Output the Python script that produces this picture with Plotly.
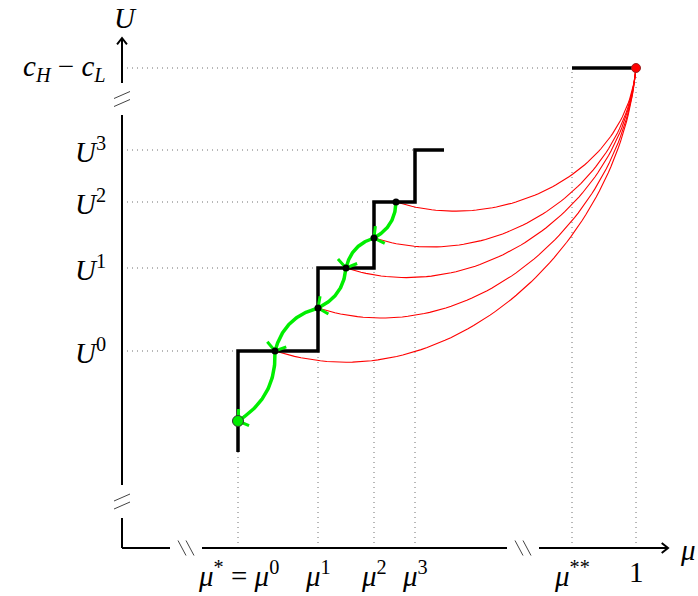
import numpy as np
import plotly.graph_objects as go

# ---------------- data (schematic units) ----------------
mu_labels = ["<i>μ</i><sup>*</sup> = <i>μ</i><sup>0</sup>", "<i>μ</i><sup>1</sup>",
             "<i>μ</i><sup>2</sup>", "<i>μ</i><sup>3</sup>", "<i>μ</i><sup>**</sup>", "1"]
mu_vals = [116, 196, 252, 293, 450, 514]
U_labels = ["<i>U</i><sup>0</sup>", "<i>U</i><sup>1</sup>", "<i>U</i><sup>2</sup>",
            "<i>U</i><sup>3</sup>", "<i>c</i><sub><i>H</i></sub> − <i>c</i><sub><i>L</i></sub>"]
U_vals = [197, 280, 346, 398, 480]
step_start_U = 96
step_end_mu = 322
seq_mu = [274, 252, 224, 196, 153]
seq_U = [346, 310, 280, 240, 197]
final_mu = 116
final_U = 127
green_bends = [30, -30, 30, -30, 30]

FONT = "'Liberation Serif', 'Times New Roman', 'DejaVu Serif', serif"
FS = 29
fig = go.Figure()


def line(xs, ys, color="black", width=2, dash=None):
    fig.add_trace(go.Scatter(x=xs, y=ys, mode="lines",
                             line=dict(color=color, width=width, dash=dash),
                             hoverinfo="skip", showlegend=False))


def bezier(p0, c1, c2, p3, n=80):
    t = np.linspace(0, 1, n)[:, None]
    pts = ((1 - t) ** 3) * p0 + 3 * ((1 - t) ** 2) * t * c1 + 3 * (1 - t) * t ** 2 * c2 + t ** 3 * p3
    return pts[:, 0], pts[:, 1]


def ctrl_abs(p0, p3, out_deg, in_deg, k=0.3915):
    p0 = np.array(p0, float); p3 = np.array(p3, float)
    d = np.linalg.norm(p3 - p0) * k
    c1 = p0 + d * np.array([np.cos(np.radians(out_deg)), np.sin(np.radians(out_deg))])
    c2 = p3 + d * np.array([np.cos(np.radians(in_deg)), np.sin(np.radians(in_deg))])
    return p0, c1, c2, p3


def ctrl_bend(p0, p3, bend):
    p0 = np.array(p0, float); p3 = np.array(p3, float)
    a = np.degrees(np.arctan2(p3[1] - p0[1], p3[0] - p0[0]))
    return ctrl_abs(p0, p3, a + bend, a + 180 - bend)


def arrowhead(tip, direction, length=8, ang=40, color="black", width=2):
    d = np.array(direction, float)
    d = d / np.linalg.norm(d)
    arms = []
    for s in (1, -1):
        r = np.radians(s * ang)
        back = -np.array([d[0] * np.cos(r) - d[1] * np.sin(r), d[0] * np.sin(r) + d[1] * np.cos(r)])
        arms.append((tip[0] + length * back[0], tip[1] + length * back[1]))
    line([arms[0][0], tip[0], arms[1][0]], [arms[0][1], tip[1], arms[1][1]], color=color, width=width)


# ---------------- dotted guide lines ----------------
DOT = dict(color="#707070", width=1, dash="1px,4px")
h_ends = [mu_vals[0], mu_vals[1], mu_vals[2], mu_vals[3], mu_vals[4]]
for u, xe in zip(U_vals, h_ends):
    line([0, xe], [u, u], **DOT)
v_tops = [step_start_U, U_vals[0], U_vals[1], U_vals[2], U_vals[4], U_vals[4]]
for m, yt in zip(mu_vals, v_tops):
    line([m, m], [0, yt], **DOT)

# ---------------- axes with breaks ----------------
AX = dict(color="black", width=2)
ygaps = [(30, 63), (433, 465)]
line([0, 0], [0, ygaps[0][0]], **AX)
line([0, 0], [ygaps[0][1], ygaps[1][0]], **AX)
line([0, 0], [ygaps[1][1], 510], **AX)
arrowhead((0, 510), (0, 1), length=8, ang=38, width=2)
xgaps = [(48, 80), (385, 417)]
line([0, xgaps[0][0]], [0, 0], **AX)
line([xgaps[0][1], xgaps[1][0]], [0, 0], **AX)
line([xgaps[1][1], 546], [0, 0], **AX)
arrowhead((546, 0), (1, 0), length=8, ang=38, width=2)

BRK = dict(color="#444444", width=1)
for g in ygaps:
    c = (g[0] + g[1]) / 2
    for off in (-4, 4):
        line([-8, 8], [c + off - 3.5, c + off + 3.5], **BRK)
for g in xgaps:
    c = (g[0] + g[1]) / 2
    for off in (-4, 4):
        line([c + off - 4, c + off + 4], [7.5, -7.5], **BRK)

# ---------------- red curves ----------------
top = (mu_vals[5], U_vals[4])
for m, u in zip(seq_mu, seq_U):
    bx, by = bezier(*ctrl_abs((m, u), top, -18, -95))
    line(list(bx), list(by), color="red", width=1.1)

# ---------------- step function ----------------
sx = [mu_vals[0], mu_vals[0], mu_vals[1], mu_vals[1], mu_vals[2], mu_vals[2], mu_vals[3], mu_vals[3], step_end_mu]
sy = [step_start_U, U_vals[0], U_vals[0], U_vals[1], U_vals[1], U_vals[2], U_vals[2], U_vals[3], U_vals[3]]
line(sx, sy, color="black", width=3.5)
line([mu_vals[4], mu_vals[5]], [U_vals[4], U_vals[4]], color="black", width=3.5)

# ---------------- green path ----------------
GREEN = "#00ee00"
pts = list(zip(seq_mu, seq_U)) + [(final_mu, final_U)]
for i in range(len(pts) - 1):
    p0, c1, c2, p3 = ctrl_bend(pts[i], pts[i + 1], green_bends[i])
    bx, by = bezier(p0, c1, c2, p3)
    line(list(bx), list(by), color=GREEN, width=3.5)
    arrowhead(p3, p3 - c2, length=12, ang=55, color=GREEN, width=3)

# ---------------- dots ----------------
fig.add_trace(go.Scatter(x=seq_mu, y=seq_U, mode="markers",
                         marker=dict(color="black", size=7), hoverinfo="skip", showlegend=False))
fig.add_trace(go.Scatter(x=[final_mu], y=[final_U], mode="markers",
                         marker=dict(color=GREEN, size=11, line=dict(color="#333333", width=1)),
                         hoverinfo="skip", showlegend=False))
fig.add_trace(go.Scatter(x=[top[0]], y=[top[1]], mode="markers",
                         marker=dict(color="red", size=9, line=dict(color="#992222", width=1)),
                         hoverinfo="skip", showlegend=False))

# ---------------- labels ----------------
ann = []
for lab, m in zip(mu_labels, mu_vals):
    ann.append(dict(x=m, y=-6, text=lab, xanchor="center", yanchor="top", showarrow=False))
for lab, u in zip(U_labels, U_vals):
    ann.append(dict(x=-14, y=u, text=lab, xanchor="right", yanchor="middle", showarrow=False))
ann.append(dict(x=3, y=530, text="<i>U</i>", xanchor="center", yanchor="middle", showarrow=False))
ann.append(dict(x=556, y=-2, text="<i>μ</i>", xanchor="left", yanchor="middle", showarrow=False))
for a in ann:
    a["font"] = dict(family=FONT, size=FS, color="black")
    a["xref"] = "x"; a["yref"] = "y"

# 1 data unit = 1 px; data origin sits at (122, 548) on the page
fig.update_layout(
    width=698, height=596,
    margin=dict(l=0, r=0, t=0, b=0),
    paper_bgcolor="white", plot_bgcolor="white",
    xaxis=dict(range=[-122, 576], visible=False, fixedrange=True),
    yaxis=dict(range=[-48, 548], visible=False, fixedrange=True),
    annotations=ann,
)
fig.write_html("out.html", config={"displayModeBar": False},
               post_script="document.body.style.margin='0';document.body.style.overflow='hidden';")
